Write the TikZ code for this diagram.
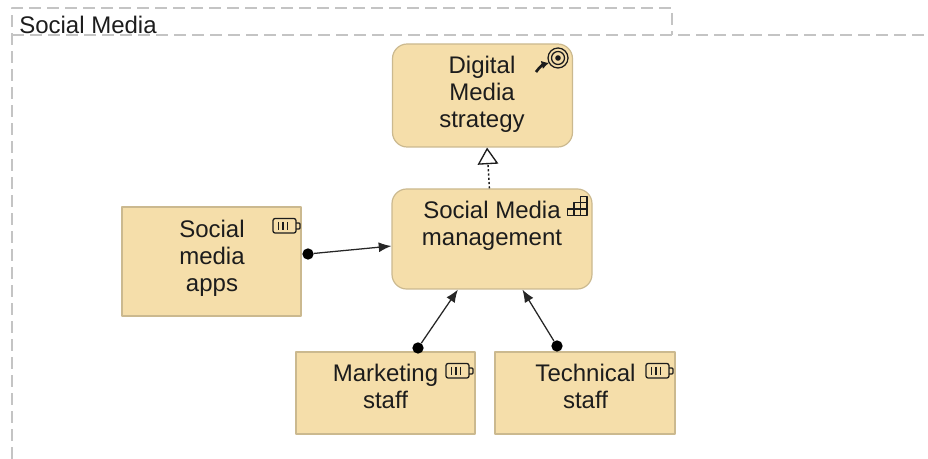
\documentclass[tikz,border=0pt]{standalone}
\usepackage{fontspec}
\setmainfont{Liberation Sans}
\usetikzlibrary{arrows.meta}
\definecolor{elemfill}{HTML}{F5DEAA}
\definecolor{elemedge}{HTML}{CBB98F}
\definecolor{framegray}{HTML}{C4C4C4}
\definecolor{inkdark}{HTML}{1C1C1C}
\tikzset{
  element/.style={draw=elemedge,fill=elemfill,line width=0.9pt,inner sep=0pt},
  roundelement/.style={element,rounded corners=11pt},
  elemtext/.style={inner sep=0pt,align=center,text=inkdark,font=\fontsize{18}{20.25}\selectfont},
  frameline/.style={draw=framegray,line width=0.9pt,dash pattern=on 9pt off 4.5pt},
  dot/.style={circle,fill=black,inner sep=0pt,minimum size=8.5pt},
  serving/.style={-{Latex[length=9.5pt,width=7.5pt]},black!85,line width=0.95pt},
  iconline/.style={draw=inkdark,line width=0.95pt},
  battery/.pic={
    \draw[iconline,rounded corners=1.6pt] (-13,-7.5) rectangle (10,7);
    \draw[iconline,rounded corners=0.8pt] (10,-3) -- (14,-3) -- (14,3) -- (10,3);
    \foreach \x in {-7.5,-3,1.5}
    \draw[iconline] (\x,-4) -- (\x,4);
  }
}
\begin{document}
\begin{tikzpicture}[x=0.75pt,y=-0.75pt,line cap=butt,line join=round]
\useasboundingbox (0,0) rectangle (928,459);
% frame
\draw[frameline] (12,459) -- (12,8) -- (672,8) -- (672,35);
\draw[frameline] (12,35) -- (928,35);
\node[elemtext,anchor=west] (frametitle) at (19,25) {Social Media};
% elements
\node[roundelement,minimum width=135pt,minimum height=77.25pt] (strategy) at (482.5,95.5) {};
\node[roundelement,minimum width=150pt,minimum height=75pt] (management) at (492,239) {};
\node[element,minimum width=134.25pt,minimum height=81.75pt] (apps) at (211.5,261.5) {};
\node[element,minimum width=134.25pt,minimum height=61.5pt] (marketing) at (385.5,393) {};
\node[element,minimum width=135pt,minimum height=61.5pt] (technical) at (585,393) {};
% texts
\node[elemtext] (strategytext) at (482,94.5) {Digital\\Media\\strategy};
\node[elemtext] (managementtext) at (492,225.5) {Social Media\\management};
\node[elemtext] (appstext) at (212,258) {Social\\media\\apps};
\node[elemtext] (marketingtext) at (385.5,386.5) {Marketing\\staff};
\node[elemtext] (technicaltext) at (585.5,386.5) {Technical\\staff};
% icons
\foreach \x/\y in {286/226,459/371,659/371}
\pic at (\x,\y) {battery};
\draw[iconline] (558,58) circle (10);
\draw[iconline] (558,58) circle (6.5);
\fill[inkdark] (558,58) circle (2.8);
\draw[-{Latex[length=5.5pt,width=6.5pt]},inkdark,line width=2pt] (536,72) to[bend left=20] (549,63);
\draw[iconline] (580.5,196.5) -- (587,196.5) -- (587,215.5) -- (567.5,215.5) -- (567.5,209) -- (574,209) -- (574,202.5) -- (580.5,202.5) -- cycle;
\draw[iconline] (567.5,209) -- (587,209) (574,202.5) -- (587,202.5) (574,209) -- (574,215.5) (580.5,202.5) -- (580.5,215.5);
% connectors
\node[dot] (appsdot) at (308,254) {};
\node[dot] (marketingdot) at (418,348) {};
\node[dot] (technicaldot) at (557,346) {};
\draw[serving] (appsdot) -- (management.184.6);
\draw[serving] (marketingdot) -- (management.236.3);
\draw[serving] (technicaldot) -- (management.301.3);
\draw[-{Triangle[open,fill=white,length=12.5pt,width=15.5pt,line width=1pt]},inkdark,line width=1.1pt,dash pattern=on 1.6pt off 1.6pt] (management.93.4) -- (strategy.275.5);
\end{tikzpicture}
\end{document}
